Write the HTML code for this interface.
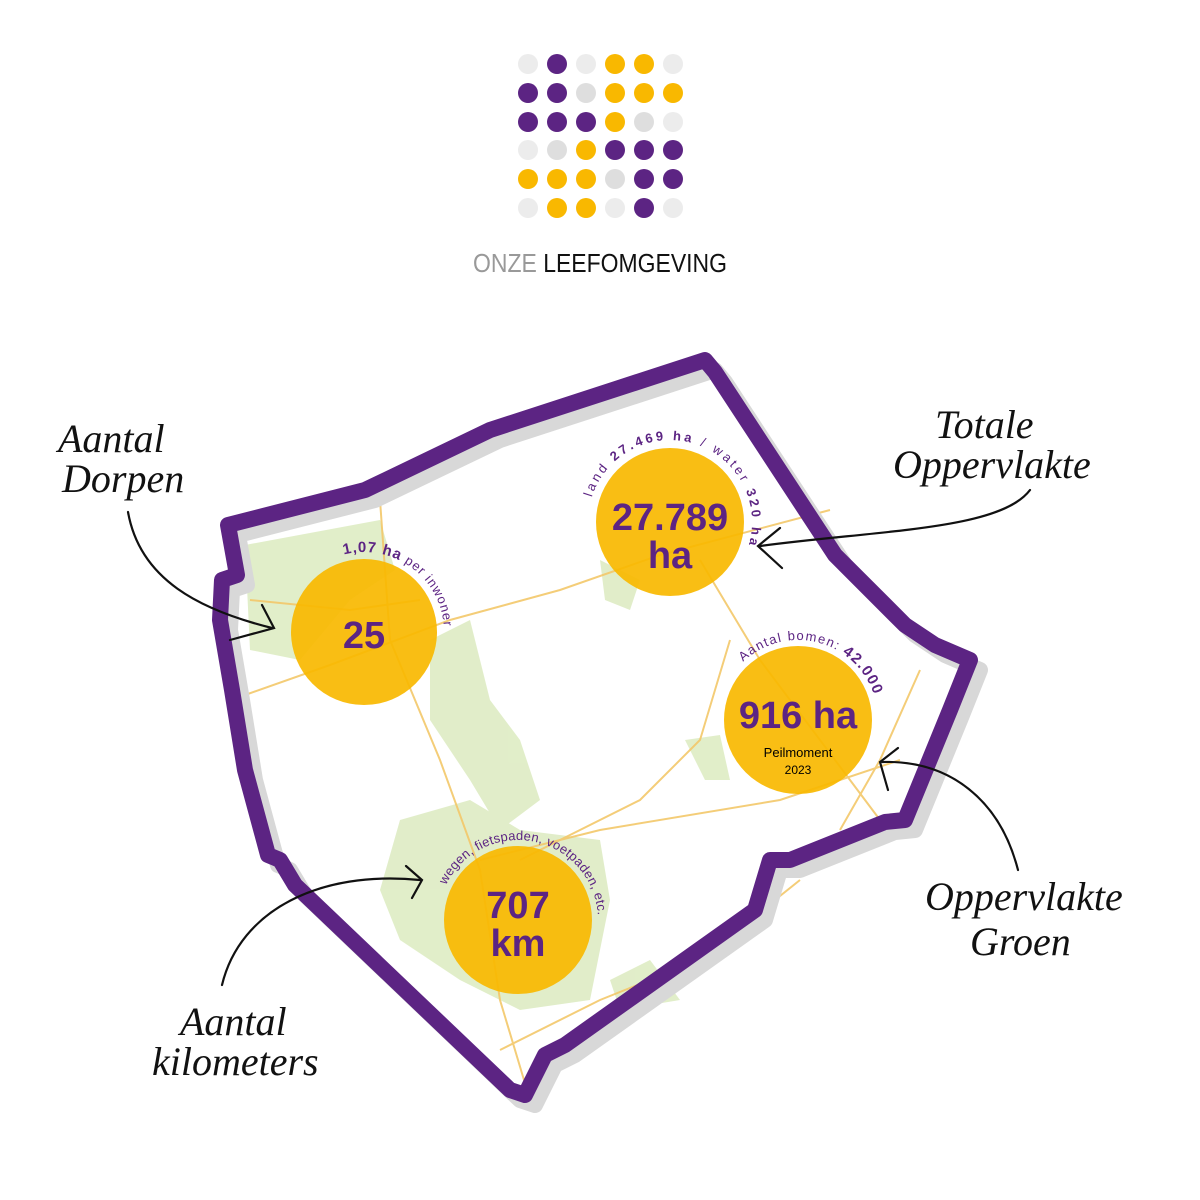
<!DOCTYPE html>
<html><head><meta charset="utf-8"><style>
body{margin:0;background:#fff;width:1200px;height:1200px;overflow:hidden}
svg{display:block}
.hw{font-family:"Liberation Serif",serif;font-style:italic;font-size:40px;fill:#111}
.cf{font-family:"Liberation Sans",sans-serif;font-weight:bold;fill:#5c2483}
.sm{font-family:"Liberation Sans",sans-serif;fill:#5c2483;font-size:13px}
</style></head><body>
<svg width="1200" height="1200" viewBox="0 0 1200 1200">
<defs>
<path id="a1" d="M284,632 A80,80 0 1 1 444,632 A80,80 0 1 1 284,632"/>
<path id="a2" d="M588,522 A82,82 0 1 1 752,522 A82,82 0 1 1 588,522"/>
<path id="a3" d="M718,720 A80,80 0 1 1 878,720 A80,80 0 1 1 718,720"/>
<path id="a4" d="M438,920 A80,80 0 1 1 598,920 A80,80 0 1 1 438,920"/>
</defs>
<g>
<circle cx="528" cy="64" r="10" fill="#ececec"/><circle cx="557" cy="64" r="10" fill="#5c2483"/><circle cx="586" cy="64" r="10" fill="#ececec"/><circle cx="615" cy="64" r="10" fill="#f9b800"/><circle cx="644" cy="64" r="10" fill="#f9b800"/><circle cx="673" cy="64" r="10" fill="#ececec"/>
<circle cx="528" cy="93" r="10" fill="#5c2483"/><circle cx="557" cy="93" r="10" fill="#5c2483"/><circle cx="586" cy="93" r="10" fill="#dedede"/><circle cx="615" cy="93" r="10" fill="#f9b800"/><circle cx="644" cy="93" r="10" fill="#f9b800"/><circle cx="673" cy="93" r="10" fill="#f9b800"/>
<circle cx="528" cy="122" r="10" fill="#5c2483"/><circle cx="557" cy="122" r="10" fill="#5c2483"/><circle cx="586" cy="122" r="10" fill="#5c2483"/><circle cx="615" cy="122" r="10" fill="#f9b800"/><circle cx="644" cy="122" r="10" fill="#dedede"/><circle cx="673" cy="122" r="10" fill="#ececec"/>
<circle cx="528" cy="150" r="10" fill="#ececec"/><circle cx="557" cy="150" r="10" fill="#dedede"/><circle cx="586" cy="150" r="10" fill="#f9b800"/><circle cx="615" cy="150" r="10" fill="#5c2483"/><circle cx="644" cy="150" r="10" fill="#5c2483"/><circle cx="673" cy="150" r="10" fill="#5c2483"/>
<circle cx="528" cy="179" r="10" fill="#f9b800"/><circle cx="557" cy="179" r="10" fill="#f9b800"/><circle cx="586" cy="179" r="10" fill="#f9b800"/><circle cx="615" cy="179" r="10" fill="#dedede"/><circle cx="644" cy="179" r="10" fill="#5c2483"/><circle cx="673" cy="179" r="10" fill="#5c2483"/>
<circle cx="528" cy="208" r="10" fill="#ececec"/><circle cx="557" cy="208" r="10" fill="#f9b800"/><circle cx="586" cy="208" r="10" fill="#f9b800"/><circle cx="615" cy="208" r="10" fill="#ececec"/><circle cx="644" cy="208" r="10" fill="#5c2483"/><circle cx="673" cy="208" r="10" fill="#ececec"/>
</g>
<text x="473" y="272" font-family="Liberation Sans,sans-serif" font-size="26" textLength="254" lengthAdjust="spacingAndGlyphs"><tspan fill="#999">ONZE </tspan><tspan fill="#111">LEEFOMGEVING</tspan></text>

<g fill="#dcebc0" opacity="0.85">
<path d="M245,545 L380,520 L395,570 L350,600 L300,660 L250,650 Z"/>
<path d="M430,640 L470,620 L490,700 L520,740 L540,800 L500,830 L470,780 L430,720 Z"/>
<path d="M400,820 L470,800 L520,830 L600,840 L610,900 L590,1000 L520,1010 L460,980 L400,940 L380,890 Z"/>
<path d="M600,560 L640,580 L630,610 L605,600 Z"/>
<path d="M685,740 L720,735 L730,780 L705,780 Z"/>
<path d="M610,980 L650,960 L680,1000 L620,1010 Z"/>
</g>
<g fill="none" stroke="#f3c86a" stroke-width="2" opacity="0.9">
<path d="M245,695 L330,665 L450,620 L560,590 L660,555 L830,510"/>
<path d="M380,500 L390,640 L440,760 L480,870 L500,1000 L530,1100"/>
<path d="M520,860 L640,800 L700,740 L730,640"/>
<path d="M480,860 L600,830 L780,800 L900,760"/>
<path d="M700,560 L760,660 L850,780 L880,820"/>
<path d="M920,670 L880,760 L840,830"/>
<path d="M500,1050 L600,1000 L700,960 L800,880"/>
<path d="M250,600 L350,610 L420,600"/>
</g>
<path d="M238,535 L375,500 L500,440 L715,370 L725,382 L845,565 L915,635 L945,655 L980,670 L960,720 L915,830 L895,832 L800,870 L780,870 L765,920 L575,1055 L555,1065 L535,1105 L520,1100 L305,895 L290,870 L278,865 L255,780 L242,700 L230,630 L232,590 L247,585 Z" fill="none" stroke="#d8d8d8" stroke-width="16" stroke-linejoin="round"/>
<path d="M228,525 L365,490 L490,430 L705,360 L715,372 L835,555 L905,625 L935,645 L970,660 L950,710 L905,820 L885,822 L790,860 L770,860 L755,910 L565,1045 L545,1055 L525,1095 L510,1090 L295,885 L280,860 L268,855 L245,770 L232,690 L220,620 L222,580 L237,575 Z" fill="none" stroke="#5c2483" stroke-width="16" stroke-linejoin="round"/>

<g fill="#f9b800" opacity="0.92">
<circle cx="364" cy="632" r="73"/><circle cx="670" cy="522" r="74"/><circle cx="798" cy="720" r="74"/><circle cx="518" cy="920" r="74"/>
</g>
<text class="cf" x="364" y="648" font-size="38" text-anchor="middle">25</text>
<text class="cf" x="670" y="530" font-size="38" text-anchor="middle">27.789</text>
<text class="cf" x="670" y="568" font-size="38" text-anchor="middle">ha</text>
<text class="cf" x="798" y="728" font-size="38" text-anchor="middle">916 ha</text>
<text x="798" y="757" font-family="Liberation Sans,sans-serif" font-size="13" text-anchor="middle">Peilmoment</text>
<text x="798" y="774" font-family="Liberation Sans,sans-serif" font-size="12" text-anchor="middle">2023</text>
<text class="cf" x="518" y="918" font-size="38" text-anchor="middle">707</text>
<text class="cf" x="518" y="956" font-size="38" text-anchor="middle">km</text>
<text class="sm"><textPath href="#a1" startOffset="105" textLength="140" lengthAdjust="spacing"><tspan font-weight="bold" font-size="15">1,07 ha</tspan> per inwoner</textPath></text>
<text class="sm" font-size="15"><textPath href="#a2" startOffset="25" textLength="255" lengthAdjust="spacing">land <tspan font-weight="bold">27.469 ha</tspan> / water <tspan font-weight="bold">320 ha</tspan></textPath></text>
<text class="sm" font-size="12"><textPath href="#a3" startOffset="65" textLength="160" lengthAdjust="spacing">Aantal bomen: <tspan font-weight="bold" font-size="15">42.000</tspan></textPath></text>
<text class="sm" font-size="12"><textPath href="#a4" startOffset="36" textLength="210" lengthAdjust="spacing">wegen, fietspaden, voetpaden, etc.</textPath></text>

<text class="hw" x="58" y="452">Aantal</text>
<text class="hw" x="62" y="492">Dorpen</text>
<text class="hw" x="935" y="438">Totale</text>
<text class="hw" x="893" y="478">Oppervlakte</text>
<text class="hw" x="925" y="910">Oppervlakte</text>
<text class="hw" x="970" y="955">Groen</text>
<text class="hw" x="180" y="1035">Aantal</text>
<text class="hw" x="152" y="1075">kilometers</text>

<g fill="none" stroke="#111" stroke-width="2.2" stroke-linecap="round">
<path d="M128,512 C140,580 200,610 272,628"/><path d="M262,605 L274,628 L230,640"/>
<path d="M1030,490 C1000,530 880,530 760,546"/><path d="M780,528 L758,546 L782,568"/>
<path d="M1018,870 C1000,800 950,760 882,762"/><path d="M898,748 L880,762 L888,790"/>
<path d="M222,985 C240,910 320,870 420,880"/><path d="M406,866 L422,880 L412,898"/>
</g>
</svg>
</body></html>
